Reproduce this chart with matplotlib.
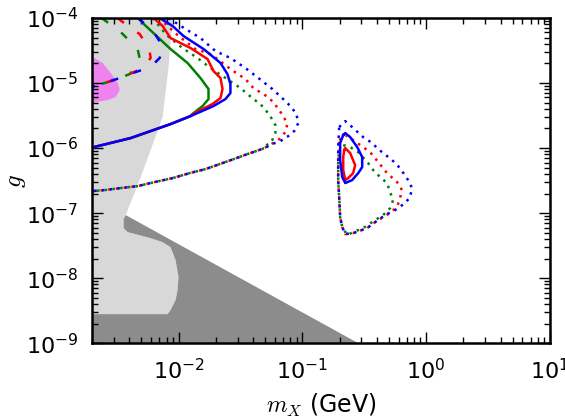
import numpy as np
import matplotlib.pyplot as plt

plt.rcParams['mathtext.fontset'] = 'cm'
plt.rcParams['axes.unicode_minus'] = False

# every value below is log10(m_X / GeV) or log10(g)
xlim = (2e-3, 1e1)
ylim = (1e-9, 1e-4)
xticks = [1e-2, 1e-1, 1e0, 1e1]
yticks = [1e-9, 1e-8, 1e-7, 1e-6, 1e-5, 1e-4]

# light grey excluded region: right edge from the top, then the lower notch
light_edge_lx = [-2.048, -2.081, -2.129, -2.226, -2.306, -2.427]
light_edge_ly = [-4.0, -4.754, -5.523, -6.031, -6.446, -7.031]
notch_lx = [-2.444, -2.444, -2.411, -2.226, -2.129, -2.065, -2.024, -2.000,
            -2.008, -2.024, -2.065, -2.089, -2.75]
notch_ly = [-7.092, -7.231, -7.292, -7.385, -7.446, -7.523, -7.723, -7.985,
            -8.185, -8.338, -8.492, -8.554, -8.554]
# dark grey region: straight edge g ~ 1/m down to the bottom
dark_lx = [-2.427, -0.548, -2.75, -2.75]
dark_ly = [-7.031, -9.0, -9.0, -8.554]

# pink region
pink_lx = [-2.75, -2.694, -2.613, -2.548, -2.492, -2.476, -2.508, -2.573, -2.669, -2.75]
pink_ly = [-4.60, -4.600, -4.692, -4.846, -5.000, -5.108, -5.215, -5.262, -5.292, -5.292]

# lower branches shared by the curves
low_solid_lx = [-1.903, -2.065, -2.387, -2.685, -2.72]
low_solid_ly = [-5.508, -5.631, -5.846, -5.985, -5.99]
low_dash_lx = [-2.395, -2.476, -2.597, -2.72]
low_dash_ly = [-4.862, -4.923, -5.000, -5.07]
low_dot_lx = [-1.306, -1.371, -1.444, -1.508, -1.645, -1.782, -1.911, -2.048,
              -2.194, -2.331, -2.468, -2.597, -2.72]
low_dot_ly = [-6.000, -6.046, -6.092, -6.138, -6.231, -6.323, -6.385, -6.462,
              -6.523, -6.585, -6.615, -6.646, -6.665]

# solid curves (upper part down to the merge point)
blue_solid_lx = [-2.153, -2.048, -1.960, -1.798, -1.661, -1.605, -1.581, -1.581, -1.621, -1.718]
blue_solid_ly = [-4.0, -4.123, -4.277, -4.477, -4.692, -4.862, -5.015, -5.154, -5.246, -5.354]
red_solid_lx = [-2.202, -2.129, -2.065, -1.903, -1.766, -1.718, -1.661, -1.645, -1.661, -1.726, -1.887]
red_solid_ly = [-4.0, -4.123, -4.308, -4.462, -4.631, -4.815, -4.923, -5.092, -5.231, -5.323, -5.477]
green_solid_lx = [-2.323, -2.290, -2.065, -1.927, -1.823, -1.758, -1.758, -1.806, -1.879]
green_solid_ly = [-4.0, -4.077, -4.477, -4.692, -4.923, -5.092, -5.246, -5.354, -5.462]

# dashed curves
blue_dash_lx = [-2.331, -2.250, -2.185, -2.145, -2.129, -2.153, -2.194, -2.274]
blue_dash_ly = [-4.0, -4.123, -4.262, -4.385, -4.492, -4.615, -4.692, -4.785]
red_dash_lx = [-2.492, -2.411, -2.315, -2.266, -2.234, -2.226, -2.290]
red_dash_ly = [-4.0, -4.123, -4.246, -4.385, -4.508, -4.615, -4.769]
green_dash_lx = [-2.621, -2.589, -2.476, -2.403, -2.331, -2.315, -2.339]
green_dash_ly = [-4.0, -4.046, -4.200, -4.338, -4.477, -4.615, -4.738]

# dotted curves
blue_dot_lx = [-2.081, -1.944, -1.823, -1.702, -1.581, -1.460, -1.355, -1.242, -1.137,
               -1.089, -1.048, -1.032, -1.065, -1.113, -1.177, -1.242]
blue_dot_ly = [-4.0, -4.169, -4.308, -4.508, -4.615, -4.769, -4.923, -5.092, -5.277,
               -5.369, -5.477, -5.615, -5.738, -5.815, -5.892, -5.938]
red_dot_lx = [-2.161, -2.105, -2.000, -1.863, -1.742, -1.685, -1.581, -1.460, -1.395,
              -1.290, -1.234, -1.194, -1.153, -1.121, -1.137, -1.185, -1.250]
red_dot_ly = [-4.0, -4.092, -4.277, -4.477, -4.554, -4.631, -4.785, -4.938, -5.077,
              -5.200, -5.292, -5.400, -5.508, -5.631, -5.754, -5.862, -5.938]
green_dot_lx = [-2.210, -2.097, -1.968, -1.847, -1.742, -1.621, -1.500, -1.395, -1.339,
                -1.290, -1.250, -1.218, -1.218, -1.250, -1.315]
green_dot_ly = [-4.0, -4.262, -4.462, -4.615, -4.769, -4.923, -5.077, -5.246, -5.323,
                -5.431, -5.538, -5.646, -5.769, -5.908, -5.985]

# island near m_X ~ 0.25 GeV
isl_blue_dot_lx = [-0.702, -0.653, -0.597, -0.508, -0.435, -0.387, -0.274, -0.210, -0.145,
                   -0.113, -0.129, -0.169, -0.250, -0.331, -0.411, -0.476, -0.589, -0.653,
                   -0.677, -0.694, -0.702, -0.710, -0.710, -0.710, -0.702]
isl_blue_dot_ly = [-5.677, -5.585, -5.677, -5.831, -5.923, -6.015, -6.185, -6.308, -6.492,
                   -6.615, -6.754, -6.846, -6.954, -7.031, -7.138, -7.231, -7.308, -7.323,
                   -7.215, -7.062, -6.754, -6.492, -6.231, -5.985, -5.677]
isl_red_dot_lx = [-0.702, -0.653, -0.589, -0.532, -0.452, -0.387, -0.315, -0.234, -0.194,
                  -0.210, -0.234, -0.306, -0.411, -0.476, -0.589, -0.653, -0.677, -0.694,
                  -0.702, -0.710, -0.710, -0.702]
isl_red_dot_ly = [-5.877, -5.800, -5.877, -5.954, -6.062, -6.215, -6.385, -6.523, -6.646,
                  -6.769, -6.908, -7.015, -7.138, -7.231, -7.308, -7.323, -7.215, -7.062,
                  -6.754, -6.492, -6.231, -5.877]
isl_green_dot_lx = [-0.669, -0.613, -0.548, -0.468, -0.427, -0.371, -0.315, -0.290, -0.266,
                    -0.290, -0.347, -0.411, -0.508, -0.589, -0.637, -0.677, -0.694, -0.702,
                    -0.710, -0.710, -0.702]
isl_green_dot_ly = [-5.954, -5.985, -6.062, -6.231, -6.338, -6.446, -6.538, -6.677, -6.800,
                    -6.923, -7.031, -7.108, -7.231, -7.292, -7.338, -7.215, -7.062, -6.754,
                    -6.492, -6.231, -6.031]
isl_blue_solid_lx = [-0.669, -0.653, -0.613, -0.556, -0.516, -0.516, -0.548, -0.597, -0.653,
                     -0.677, -0.694, -0.694, -0.669]
isl_blue_solid_ly = [-5.800, -5.769, -5.831, -5.985, -6.138, -6.292, -6.385, -6.492, -6.538,
                     -6.446, -6.185, -5.923, -5.800]
isl_red_solid_lx = [-0.661, -0.653, -0.613, -0.573, -0.589, -0.629, -0.653, -0.669, -0.669, -0.661]
isl_red_solid_ly = [-6.031, -6.000, -6.077, -6.262, -6.385, -6.462, -6.492, -6.338, -6.138, -6.031]


def p(v):
    return 10.0 ** np.asarray(v)


fig = plt.figure(figsize=(5.65, 4.19), dpi=100)
ax = fig.add_axes([0.163, 0.181, 0.810, 0.776])
ax.set_xscale('log')
ax.set_yscale('log')

# shaded regions
lgx = [-2.75] + light_edge_lx + notch_lx
lgy = [-4.0] + light_edge_ly + notch_ly
ax.fill(p(lgx), p(lgy), color='#d8d8d8', lw=0, zorder=1)
dkx = dark_lx + notch_lx[::-1]
dky = dark_ly + notch_ly[::-1]
ax.fill(p(dkx), p(dky), color='#8c8c8c', lw=0, zorder=1)
ax.fill(p(pink_lx), p(pink_ly), color='violet', lw=0, zorder=2)

lw = 1.8
dash = (0, (3.2, 6.5))
dot = (0, (1, 2.1))
for col, sx, sy, dx, dy, ox, oy in [
        ('g', green_solid_lx, green_solid_ly, green_dash_lx, green_dash_ly, green_dot_lx, green_dot_ly),
        ('r', red_solid_lx, red_solid_ly, red_dash_lx, red_dash_ly, red_dot_lx, red_dot_ly),
        ('b', blue_solid_lx, blue_solid_ly, blue_dash_lx, blue_dash_ly, blue_dot_lx, blue_dot_ly)]:
    ax.plot(p(sx + low_solid_lx), p(sy + low_solid_ly), color=col, lw=lw, zorder=3)
    ax.plot(p(dx + low_dash_lx), p(dy + low_dash_ly), color=col, lw=lw, ls=dash, zorder=3)
    ax.plot(p(ox + low_dot_lx), p(oy + low_dot_ly), color=col, lw=lw, ls=dot, zorder=3)

ax.plot(p(isl_green_dot_lx), p(isl_green_dot_ly), color='g', lw=lw, ls=dot, zorder=3)
ax.plot(p(isl_red_dot_lx), p(isl_red_dot_ly), color='r', lw=lw, ls=dot, zorder=3)
ax.plot(p(isl_blue_dot_lx), p(isl_blue_dot_ly), color='b', lw=lw, ls=dot, zorder=3)
ax.plot(p(isl_red_solid_lx), p(isl_red_solid_ly), color='r', lw=lw, zorder=3)
ax.plot(p(isl_blue_solid_lx), p(isl_blue_solid_ly), color='b', lw=lw, zorder=3)

ax.set_xlim(*xlim)
ax.set_ylim(*ylim)
ax.set_xticks(xticks)
ax.set_yticks(yticks)
ax.tick_params(which='both', direction='in', top=True, right=True, labelsize=16)
ax.tick_params(axis='x', which='major', pad=11)
ax.tick_params(axis='y', which='major', pad=10)
ax.tick_params(which='major', length=8, width=1)
ax.tick_params(which='minor', length=4, width=1)
for s in ax.spines.values():
    s.set_linewidth(1.8)
    s.set_zorder(5)
ax.set_axisbelow(False)

ax.set_xlabel(r'$m_X$ (GeV)', fontsize=17, labelpad=6)
ax.set_ylabel(r'$g$', fontsize=18, labelpad=-2)

fig.savefig('out.png', dpi=100)
